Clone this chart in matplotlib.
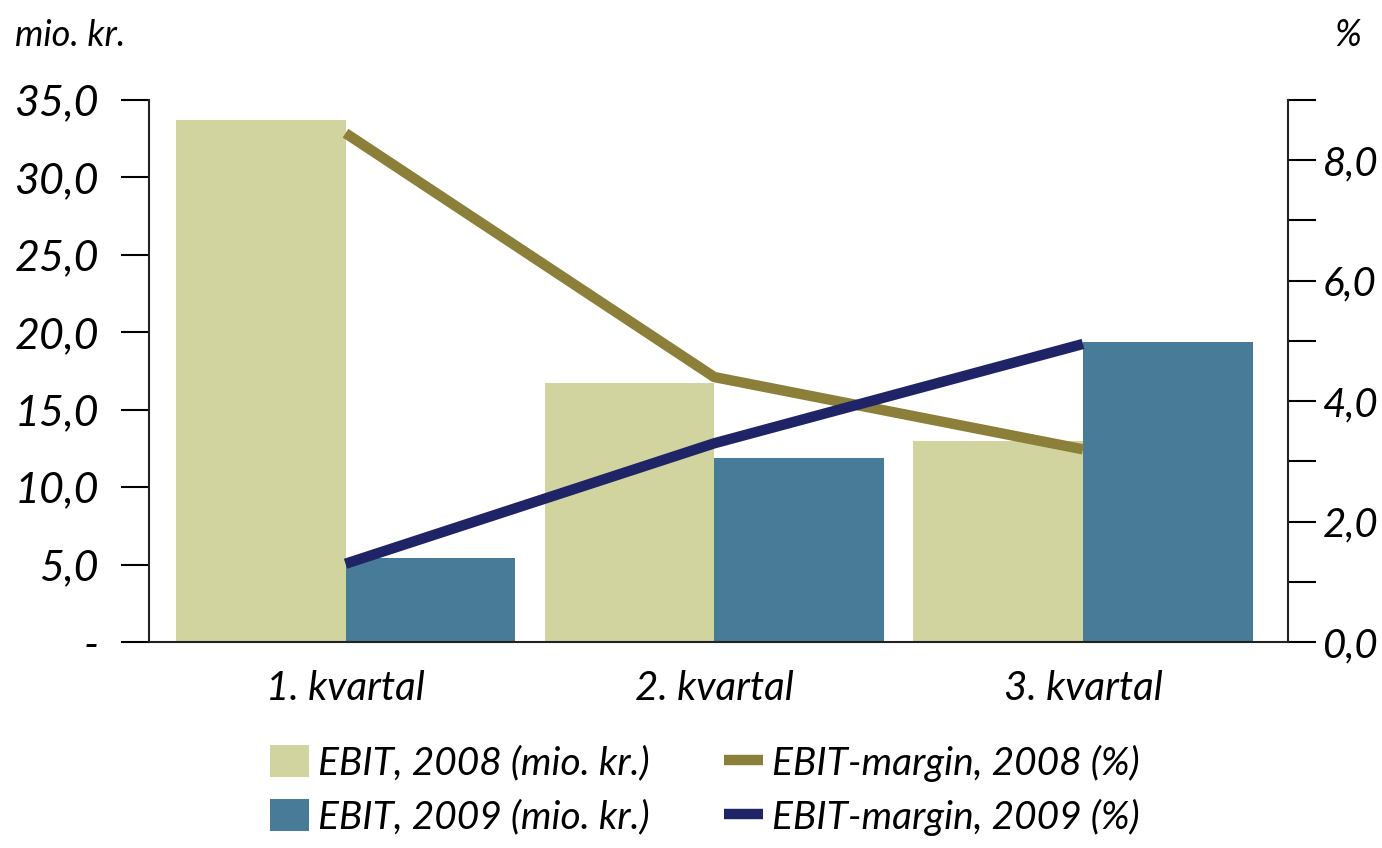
import matplotlib.pyplot as plt
import numpy as np
from matplotlib.ticker import FixedLocator, FuncFormatter

quarters = ["1. kvartal", "2. kvartal", "3. kvartal"]
ebit_2008 = [33.7, 16.7, 13.0]
ebit_2009 = [5.4, 11.9, 19.4]
margin_2008 = [8.45, 4.4, 3.2]
margin_2009 = [1.3, 3.3, 4.95]

light = "#D1D49E"
blue = "#477B98"
olive = "#8B7F3A"
navy = "#1F2466"

plt.rcParams['font.family'] = ['Lato', 'DejaVu Sans']
plt.rcParams['font.style'] = 'italic'

fig = plt.figure(figsize=(13.82, 8.48), dpi=100)
ax = fig.add_axes([0.1078, 0.2429, 0.8242, 0.6391])
ax2 = ax.twinx()

x = np.arange(len(quarters))
w = 0.46
b1 = ax.bar(x - w / 2, ebit_2008, w, color=light, label="EBIT, 2008 (mio. kr.)", zorder=1)
b2 = ax.bar(x + w / 2, ebit_2009, w, color=blue, label="EBIT, 2009 (mio. kr.)", zorder=1)
l1, = ax2.plot(x, margin_2008, color=olive, lw=7.5, solid_capstyle='butt', label="EBIT-margin, 2008 (%)")
l2, = ax2.plot(x, margin_2009, color=navy, lw=7.5, solid_capstyle='butt', label="EBIT-margin, 2009 (%)")

ax.set_xlim(-0.533, 2.556)
ax.set_ylim(0, 35)
ax2.set_ylim(0, 9)

ax.set_yticks(np.arange(0, 36, 5))
ax.yaxis.set_major_formatter(FuncFormatter(lambda v, p: "-" if v == 0 else f"{v:.1f}".replace(".", ",")))
ax2.yaxis.set_major_locator(FixedLocator(np.arange(0, 10, 1)))
ax2.yaxis.set_major_formatter(FuncFormatter(lambda v, p: f"{v:.1f}".replace(".", ",") if int(round(v)) % 2 == 0 else ""))

ax.set_xticks(x)
ax.set_xticklabels(quarters)
ax.tick_params(axis='x', length=0, pad=20, labelsize=29)
ax.tick_params(axis='y', length=20, width=1.5, labelsize=31, pad=16)
ax2.tick_params(axis='y', length=20, width=1.5, labelsize=29, pad=5)

for a in (ax, ax2):
    a.spines['top'].set_visible(False)
    for s in ('left', 'right', 'bottom'):
        a.spines[s].set_linewidth(1.5)
        a.spines[s].set_color("#222222")
ax.spines['right'].set_visible(False)
ax2.spines['left'].set_visible(False)
ax2.spines['bottom'].set_visible(False)

fig.text(0.011, 0.958, "mio. kr.", fontsize=26, va='center', ha='left')
fig.text(0.975, 0.958, "%", fontsize=26, va='center', ha='center')

fig.legend([b1, b2, l1, l2],
           [b1.get_label(), b2.get_label(), l1.get_label(), l2.get_label()],
           ncol=2, loc='center', bbox_to_anchor=(0.51, 0.068), frameon=False,
           fontsize=28, handlelength=1.0, handleheight=0.9, columnspacing=1.9,
           labelspacing=0.45, handletextpad=0.25)

fig.savefig("out.png", dpi=100)
